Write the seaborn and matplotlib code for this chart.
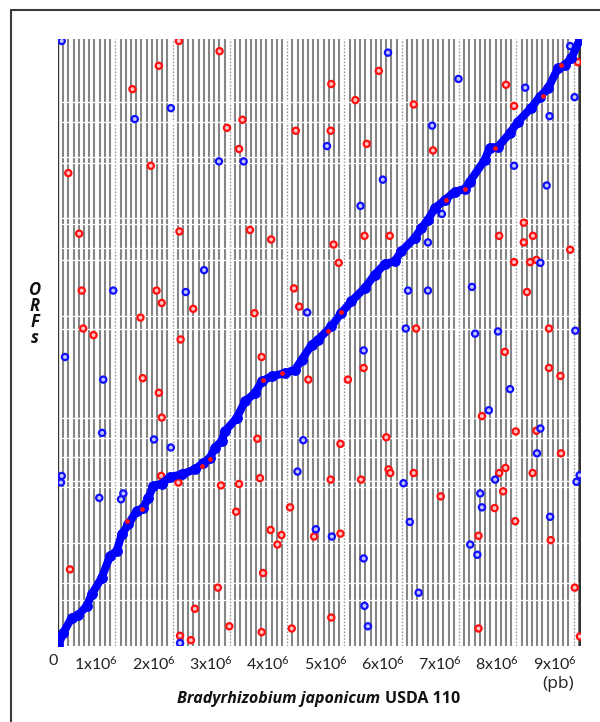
import numpy as np
import pandas as pd
import matplotlib
matplotlib.use("Agg")
import matplotlib.pyplot as plt
import matplotlib.transforms as mtransforms
from matplotlib.lines import Line2D
import seaborn as sns

# Collinear backbone: genome position (Mb) against ORF index
backbone_mb = [0.005, 0.092, 0.239, 0.354, 0.501, 0.588, 0.763, 0.908, 1.024, 1.112,
               1.227, 1.373, 1.489, 1.576, 1.663, 1.810, 1.955, 2.159, 2.391, 2.536,
               2.653, 2.740, 2.857, 2.914, 3.119, 3.264, 3.438, 3.555, 3.729, 3.962,
               4.136, 4.253, 4.428, 4.538, 4.770, 4.944, 5.119, 5.353, 5.527, 5.702,
               5.876, 5.991, 6.225, 6.341, 6.457, 6.574, 6.749, 6.923, 7.098, 7.185,
               7.447, 7.534, 7.679, 7.883, 8.028, 8.260, 8.407, 8.551, 8.726, 8.843,
               8.958, 9.105]
backbone_orf = [10, 182, 388, 425, 548, 708, 936, 1233, 1302, 1530,
                1667, 1850, 1895, 2032, 2192, 2224, 2315, 2352, 2421, 2511,
                2580, 2717, 2809, 2941, 3124, 3352, 3466, 3626, 3695, 3740,
                3785, 3922, 4128, 4196, 4380, 4562, 4722, 4905, 5087, 5233,
                5270, 5407, 5590, 5725, 5840, 5996, 6110, 6224, 6261, 6361,
                6658, 6827, 6840, 7024, 7183, 7375, 7525, 7640, 7914, 7960,
                8051, 8302]

# Reverse-strand hits lying on the backbone
backbone_red_mb = [1.199, 1.461, 2.508, 2.653, 3.583, 3.904, 4.712, 4.944,
                   6.777, 7.098, 7.621, 8.464, 8.784]
backbone_red_orf = [1713, 1873, 2466, 2558, 3648, 3740, 4311, 4576,
                    6110, 6261, 6818, 7535, 7960]

# Scattered hits off the backbone (red)
red_mb = [2.11, 2.82, 1.76, 1.30, 3.22, 2.95, 4.15, 3.16, 1.62, 0.18,
          0.37, 2.12, 3.35, 3.72,
          5.60, 4.77, 7.82, 5.19, 6.21, 7.96, 9.075, 4.76, 5.39, 6.545,
          8.13, 5.35, 5.79, 7.70, 8.29,
          0.414, 1.72, 4.12, 1.81, 2.36, 4.21, 3.43, 1.44, 0.44, 0.62,
          2.14, 3.555, 1.48, 4.37, 1.76, 1.81, 3.48,
          4.81, 4.90, 8.13, 8.94, 7.96, 8.24, 8.35, 8.185, 6.25, 8.57,
          5.335, 7.80, 8.57, 8.77, 5.06, 7.40, 7.99, 8.35, 5.73, 4.93,
          1.80, 2.10, 2.845, 3.16, 3.525, 3.11, 4.05, 3.71, 3.90, 3.83,
          4.47, 0.21, 3.58, 2.79, 2.39, 2.99, 3.555, 4.08, 2.13, 2.32,
          8.78, 5.77, 5.80, 6.21, 4.76, 5.29, 7.81, 7.70, 8.285, 7.77,
          6.68, 7.62, 7.98, 4.93, 7.34, 8.60, 9.02, 4.77, 7.34, 9.11]
red_orf = [8290, 8150, 7950, 7630, 7210, 7100, 7060, 6810, 6580, 6480,
           5650, 5680, 5700, 5570,
           7880, 7700, 7690, 7480, 7420, 7400, 8000, 7060, 6880, 6790,
           5800, 5620, 5620, 5620, 5620,
           4870, 4870, 4900, 4700, 4620, 4650, 4560, 4500, 4350, 4260,
           4200, 3960, 3670, 3650, 3470, 3130, 2840,
           5500, 5250, 5530, 5430, 5260, 5260, 5290, 4850, 4350, 4350,
           3810, 4030, 3810, 3700, 3650, 3150, 2940, 2950, 2860, 2770,
           2330, 2240, 2200, 2220, 2300, 1840, 1900, 1590, 1520, 1390,
           1500, 1050, 1000, 800, 510, 270, 190, 240, 140, 80,
           2640, 2420, 2370, 2370, 2280, 2280, 2440, 2370, 2370, 2120,
           2050, 1890, 1710, 1540, 1510, 1450, 800, 390, 240, 130]

# Scattered hits off the backbone (blue)
blue_mb = [0.065, 1.97, 1.34, 2.81, 3.24,
           5.76, 6.99, 8.155, 9.017, 8.94, 8.58, 6.53, 4.695, 7.96, 5.67,
           8.53, 5.28, 6.70,
           2.55, 0.965, 2.23, 4.35, 0.122, 0.79, 0.77, 1.675, 4.28,
           6.457, 8.42, 6.11, 6.457, 7.225, 6.07, 7.28, 7.68, 9.03, 5.335,
           7.89, 7.52, 8.42,
           0.065, 0.052, 0.72, 1.14, 1.10, 1.97, 4.18, 4.50, 2.13,
           8.36, 6.03, 7.63, 9.105, 9.05, 7.37, 7.40, 8.59, 6.14, 4.78,
           7.195, 7.32, 5.335, 6.295, 5.35, 5.41]
blue_orf = [8290, 7370, 7220, 6640, 6640,
            8130, 7770, 7650, 7520, 8220, 7260, 7130, 6850, 6580, 6390,
            6310, 6030, 5920,
            5150, 4870, 4850, 4570, 3960, 3650, 2920, 2830, 2820,
            5530, 5250, 4870, 4870, 4920, 4350, 4280, 4310, 4320, 4050,
            3520, 3230, 2980,
            2330, 2240, 2030, 2090, 2010, 2720, 2390, 1600, 40,
            2640, 2230, 2280, 2340, 2250, 2090, 1900, 1770, 1700, 1500,
            1390, 1250, 1200, 730, 550, 270]

# Contig boundaries (ORF index) shown as breaks across the genome grid
contig_breaks_orf = [7457, 7175, 6703, 6621, 5859, 5781, 5453, 5292, 4517,
                     4347, 3124, 2850, 2589, 2261, 2178, 1415, 867, 626]

genome_mb = 9.105
total_orfs = 8317
tick_mb = list(range(10))
tick_labels = ["0"] + [f"{i}x10$^6$" for i in range(1, 10)]

sns.set_theme(style="white")
plt.rcParams["font.family"] = ["Lato", "DejaVu Sans"]
plt.rcParams["mathtext.fontset"] = "custom"
plt.rcParams["mathtext.rm"] = "Lato"
plt.rcParams["mathtext.default"] = "regular"

fig = plt.figure(figsize=(6, 7.22), dpi=100)
ax = fig.add_axes([58 / 600, 76 / 722, 522.5 / 600, 607 / 722])
ax.set_xlim(0, 9.12)
ax.set_ylim(0, total_orfs)

# Genome grid: thin gray stripes, dotted at each megabase
step = 1 / 11
stripes = np.arange(step, genome_mb, step)
minor = [s for s in stripes if abs(s - round(s)) > 1e-6]
ax.vlines(minor, 0, total_orfs, color="#858585", lw=1.5, zorder=1)
ax.vlines(range(1, 10), 0, total_orfs, color="#9a9a9a", lw=1.0,
          linestyles=(0, (1.2, 1.2)), zorder=1)
ax.vlines([0, genome_mb], 0, total_orfs, color="#333333", lw=1.7, zorder=1)
ax.hlines(contig_breaks_orf, 0.03, genome_mb - 0.03, color="white", lw=0.9, zorder=2)

# Scattered hits as open rings
hits = pd.DataFrame({
    "mb": red_mb + blue_mb,
    "orf": red_orf + blue_orf,
    "strand": ["reverse"] * len(red_mb) + ["forward"] * len(blue_mb),
})
palette = {"reverse": "#ff1010", "forward": "#1010ff"}
sns.scatterplot(data=hits, x="mb", y="orf", hue="strand", palette=palette,
                s=20, linewidth=1.6, legend=False, ax=ax, zorder=5)
coll = ax.collections[-1]
edge = coll.get_facecolors()
coll.set_edgecolors(edge)
face = edge.copy()
face[:, :3] = face[:, :3] * 0.25 + 0.75
coll.set_facecolors(face)

# Backbone
sns.lineplot(x=backbone_mb, y=backbone_orf, sort=False, estimator=None,
             color="#0000ff", lw=5.8, marker="o", markersize=7,
             markeredgecolor="#0000ff", solid_capstyle="round",
             solid_joinstyle="round", ax=ax, zorder=6)
sns.scatterplot(x=backbone_red_mb, y=backbone_red_orf, color="#ff1010",
                s=12, linewidth=0, ax=ax, zorder=7)

for sp in ax.spines.values():
    sp.set_visible(False)
ax.set_yticks([])
ax.set_xticks(tick_mb)
ax.set_xticklabels(tick_labels, fontsize=11.5, ha="right", color="#222222")
ax.tick_params(axis="x", length=0, pad=6)
shift = mtransforms.ScaledTranslation(3 / 100, 0, fig.dpi_scale_trans)
for lab in ax.get_xticklabels():
    lab.set_transform(lab.get_transform() + shift)
ax.get_xticklabels()[0].set_transform(
    ax.get_xticklabels()[0].get_transform()
    + mtransforms.ScaledTranslation(-3 / 100, 0, fig.dpi_scale_trans))
ax.set_xlabel("")
ax.set_ylabel("")

fig.text(380 / 600, 19 / 722, "Bradyrhizobium japonicum", ha="right",
         va="baseline", fontsize=11.5, fontweight="bold", fontstyle="italic",
         family="Open Sans", color="#111111")
fig.text(385 / 600, 19 / 722, "USDA 110", ha="left", va="baseline",
         fontsize=11.5, fontweight="bold", family="Open Sans", color="#111111")
fig.text(558 / 600, 38 / 722, "(pb)", ha="center", va="center",
         fontsize=12.5, family="Open Sans", color="#222222")
fig.text(35 / 600, 408 / 722, "O\nR\nF\ns", ha="center", va="center",
         fontsize=12, fontweight="bold", fontstyle="italic", family="Open Sans",
         linespacing=0.85, color="#111111")

# Page frame
fig.add_artist(Line2D([11 / 600, 11 / 600], [0, 1 - 10 / 722],
                      color="#3a3a3a", lw=1.5))
fig.add_artist(Line2D([11 / 600, 1], [1 - 10 / 722, 1 - 10 / 722],
                      color="#3a3a3a", lw=1.5))

fig.savefig("out.png", dpi=100)
